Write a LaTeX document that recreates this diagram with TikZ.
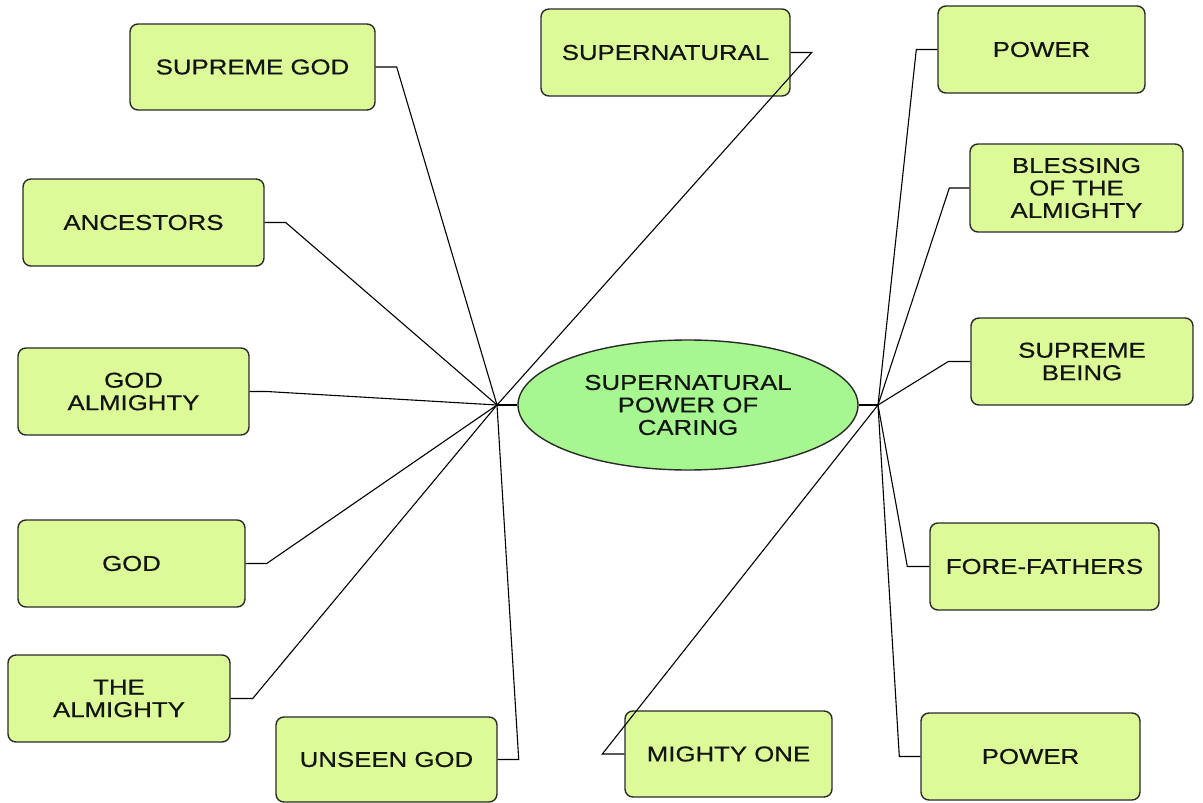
\documentclass[tikz,border=0pt]{standalone}
\usepackage{fontspec}
\setmainfont[FakeStretch=1.2,FakeBold=0.6]{Liberation Sans}
\usetikzlibrary{shapes.geometric}
\definecolor{boxfill}{HTML}{DCFB98}
\definecolor{hubfill}{HTML}{A6F78F}
\definecolor{edge}{HTML}{2A2A2A}
\definecolor{ink}{HTML}{141414}
\begin{document}
\begin{tikzpicture}[x=1pt,y=-1pt,
  term/.style={draw=edge, line width=1.4pt, fill=boxfill, rounded corners=8pt,
    inner sep=0pt, align=center, text=ink,
    font=\fontsize{21.5}{22.5}\selectfont},
  core/.style={ellipse, draw=edge, line width=1.4pt, fill=hubfill,
    minimum width=340pt, minimum height=130pt, inner sep=0pt, align=center,
    text=ink, font=\fontsize{21.5}{22.5}\selectfont},
  link/.style={draw=black, line width=1.1pt, line join=miter}]
\useasboundingbox (0,0) rectangle (1203,803);

% central topic
\node[core] (c) at (688,405) {SUPERNATURAL\\POWER OF\\CARING};
\coordinate (hl) at (497,405);
\coordinate (hr) at (878,405);

% left branch
\node[term, minimum width=245pt, minimum height=86pt] (sg) at (252.5,67) {SUPREME GOD};
\node[term, minimum width=241pt, minimum height=87pt] (an) at (143.5,222.5) {ANCESTORS};
\node[term, minimum width=231pt, minimum height=87pt] (ga) at (133.5,391.5) {GOD\\ALMIGHTY};
\node[term, minimum width=227pt, minimum height=87pt] (gd) at (131.5,563.5) {GOD};
\node[term, minimum width=222pt, minimum height=87pt] (ta) at (119,698.5) {THE\\ALMIGHTY};
\node[term, minimum width=221pt, minimum height=85pt] (ug) at (386.5,759.5) {UNSEEN GOD};
\node[term, minimum width=249pt, minimum height=87pt] (sn) at (665.5,52.5) {SUPERNATURAL};

% right branch
\node[term, minimum width=207pt, minimum height=87pt] (pw) at (1041.5,49.5) {POWER};
\node[term, minimum width=213pt, minimum height=88pt] (bl) at (1076.5,188) {BLESSING\\OF THE\\ALMIGHTY};
\node[term, minimum width=222pt, minimum height=87pt] (sb) at (1082,361.5) {SUPREME\\BEING};
\node[term, minimum width=229pt, minimum height=87pt] (ff) at (1044.5,566.5) {FORE-FATHERS};
\node[term, minimum width=219pt, minimum height=87pt] (pb) at (1030.5,756.5) {POWER};
\node[term, minimum width=207pt, minimum height=86pt] (mo) at (728.5,754) {MIGHTY ONE};

% connectors
\draw[link] (c.west) -- (hl);
\draw[link] (c.east) -- (hr);
\draw[link] (sg.east) -- ++(21,0) -- (hl);
\draw[link] (an.east) -- ++(21,0) -- (hl);
\draw[link] (ga.east) -- ++(17,0) -- (hl);
\draw[link] (gd.east) -- ++(21,0) -- (hl);
\draw[link] (ta.east) -- ++(22,0) -- (hl);
\draw[link] (ug.east) -- ++(21,0) -- (hl);
\draw[link] (sn.east) -- ++(21,0) -- (hl);
\draw[link] (pw.west) -- ++(-21,0) -- (hr);
\draw[link] (bl.west) -- ++(-20,0) -- (hr);
\draw[link] (sb.west) -- ++(-22,0) -- (hr);
\draw[link] (ff.west) -- ++(-22,0) -- (hr);
\draw[link] (pb.west) -- ++(-21,0) -- (hr);
\draw[link] (mo.west) -- ++(-22,0) -- (hr);
\end{tikzpicture}
\end{document}
